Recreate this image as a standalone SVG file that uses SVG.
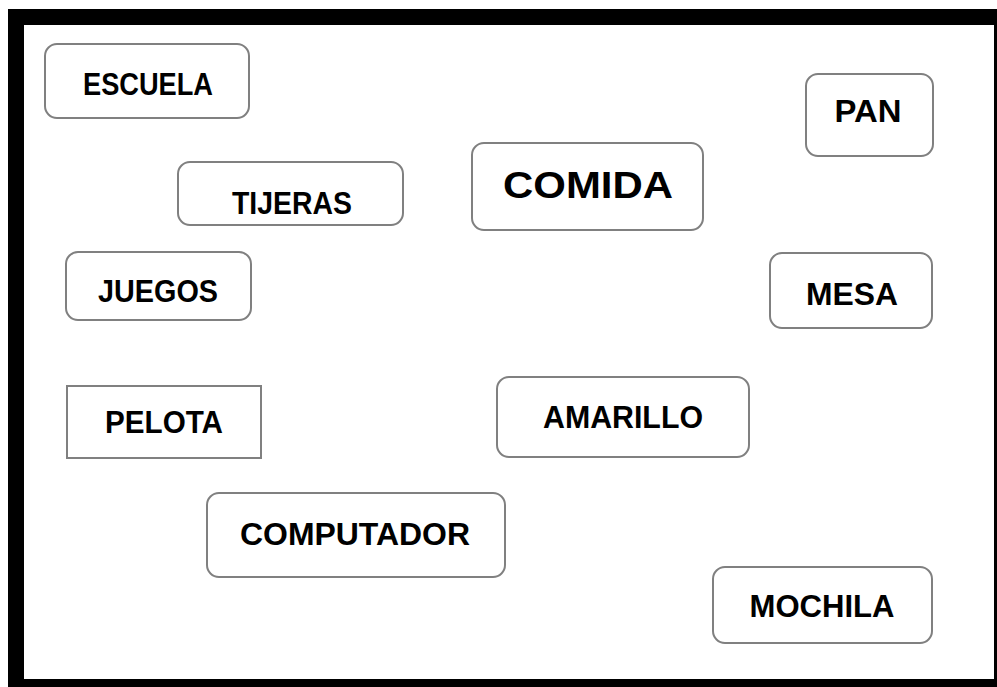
<svg xmlns="http://www.w3.org/2000/svg" width="997" height="687" viewBox="0 0 997 687">
<style>
.box{fill:#fff;stroke:#808080;stroke-width:2}
.t{font-family:"Liberation Sans",Arial,sans-serif;font-weight:bold;font-size:32px;fill:#000;text-anchor:middle}
.big{font-size:36px}
</style>
<rect x="0" y="0" width="997" height="687" fill="#fff"/>
<rect x="8" y="9" width="989" height="678" fill="#000"/>
<rect x="24" y="25" width="970" height="654" fill="#fff"/>
<g id="escuela"><rect class="box" x="45" y="44" width="204" height="74" rx="12"/><text class="t" x="148" y="95" textLength="130" lengthAdjust="spacingAndGlyphs">ESCUELA</text></g>
<g id="pan"><rect class="box" x="806" y="74" width="127" height="82" rx="12"/><text class="t" x="868" y="122" textLength="67" lengthAdjust="spacingAndGlyphs">PAN</text></g>
<g id="tijeras"><rect class="box" x="178" y="162" width="225" height="63" rx="12"/><text class="t" x="292" y="214" textLength="120" lengthAdjust="spacingAndGlyphs">TIJERAS</text></g>
<g id="comida"><rect class="box" x="472" y="143" width="231" height="87" rx="12"/><text class="t big" x="588" y="198" textLength="170" lengthAdjust="spacingAndGlyphs">COMIDA</text></g>
<g id="juegos"><rect class="box" x="66" y="252" width="185" height="68" rx="12"/><text class="t" x="158" y="302" textLength="120" lengthAdjust="spacingAndGlyphs">JUEGOS</text></g>
<g id="mesa"><rect class="box" x="770" y="253" width="162" height="75" rx="12"/><text class="t" x="852" y="305" textLength="92" lengthAdjust="spacingAndGlyphs">MESA</text></g>
<g id="pelota"><rect class="box" x="67" y="386" width="194" height="72"/><text class="t" x="164" y="433" textLength="118" lengthAdjust="spacingAndGlyphs">PELOTA</text></g>
<g id="amarillo"><rect class="box" x="497" y="377" width="252" height="80" rx="12"/><text class="t" x="623" y="428" textLength="160" lengthAdjust="spacingAndGlyphs">AMARILLO</text></g>
<g id="computador"><rect class="box" x="207" y="493" width="298" height="84" rx="12"/><text class="t" x="355" y="545" textLength="230" lengthAdjust="spacingAndGlyphs">COMPUTADOR</text></g>
<g id="mochila"><rect class="box" x="713" y="567" width="219" height="76" rx="12"/><text class="t" x="822" y="617" textLength="145" lengthAdjust="spacingAndGlyphs">MOCHILA</text></g>
<g id="connectors"/>
</svg>
